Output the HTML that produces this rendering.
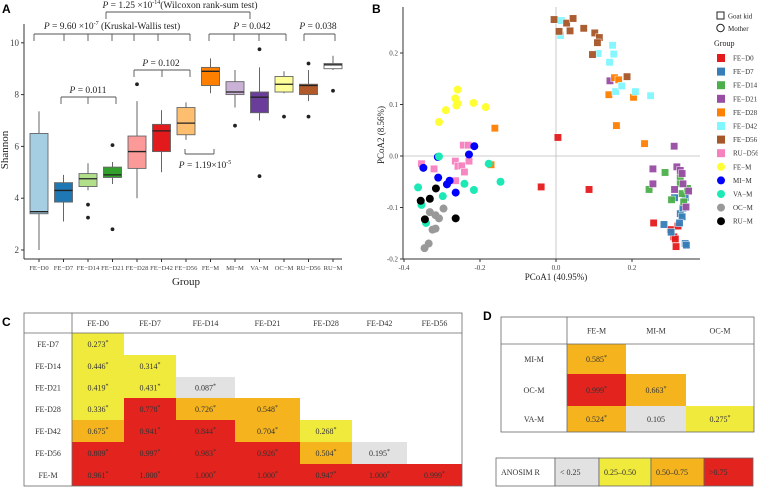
<!DOCTYPE html>
<html><head><meta charset="utf-8"><style>
body{margin:0;background:#fff;}
svg{display:block;font-family:"Liberation Serif",serif;}
.pl{font-family:"Liberation Sans",sans-serif;font-weight:bold;font-size:12px;}
</style></head><body>
<svg id="s" width="758" height="488" viewBox="0 0 758 488" xmlns="http://www.w3.org/2000/svg">
<text class="pl" x="2" y="13">A</text>
<text class="pl" x="372" y="13">B</text>
<text class="pl" x="2" y="326">C</text>
<text class="pl" x="483" y="320">D</text>
<g id="A"></g>
<g id="B"></g>
<g id="C"></g>
<g id="D"></g>
</svg>
<script>
const NS="http://www.w3.org/2000/svg";
function mk(p,t,a,txt){const e=document.createElementNS(NS,t);for(const k in a)e.setAttribute(k,a[k]);if(txt!==undefined)e.textContent=txt;p.appendChild(e);return e;}

// ---------- Panel A data ----------
const groupsA=["FE−D0","FE−D7","FE−D14","FE−D21","FE−D28","FE−D42","FE−D56","FE−M","MI−M","VA−M","OC−M","RU−D56","RU−M"];
const boxMin=[2.0,3.1,4.3,4.55,4.0,5.0,6.25,8.05,7.5,7.0,8.05,7.75,8.95];
const boxQ1=[3.4,3.85,4.45,4.8,5.15,5.8,6.45,8.35,8.0,7.3,8.1,8.0,9.0];
const boxMed=[3.48,4.3,4.75,4.9,5.8,6.6,6.9,8.9,8.1,7.9,8.4,8.35,9.15];
const boxQ3=[6.5,4.6,4.95,5.2,6.4,6.85,7.5,9.05,8.5,8.1,8.7,8.4,9.2];
const boxMax=[7.35,4.9,5.35,5.4,7.75,7.4,7.7,9.4,8.95,9.05,8.9,8.95,9.5];
const outliers=[[],[],[3.75,3.25],[6.05,2.8],[8.4],[],[],[],[6.8],[9.75,4.85],[7.15],[9.2,7.15],[8.15]];
const yTicksA=[2,4,6,8,10];
const boxColors=["#a6cee3","#1f78b4","#b2df8a","#33a02c","#fb9a99","#e31a1c","#fdbf6f","#ff7f00","#cab2d6","#6a3d9a","#ffff99","#b15928","#ffffff"];

const A=document.getElementById('A');
const ax=i=>39+i*24.5;
const ay=v=>250-(v-2)*25.9;
mk(A,'line',{x1:24,y1:24,x2:24,y2:259,stroke:'#333','stroke-width':1});
mk(A,'line',{x1:24,y1:259,x2:342,y2:259,stroke:'#333','stroke-width':1});
yTicksA.forEach(v=>{
  mk(A,'line',{x1:21,y1:ay(v),x2:24,y2:ay(v),stroke:'#333'});
  const t=mk(A,'text',{x:19,y:ay(v)+3,'text-anchor':'end','font-size':9,fill:'#444'},String(v));
  
});
mk(A,'text',{x:8,y:150,'text-anchor':'middle','font-size':11,transform:'rotate(-90 8 150)',fill:'#222',},'Shannon');
mk(A,'text',{x:186,y:285,'text-anchor':'middle','font-size':11,fill:'#222',},'Group');
groupsA.forEach((g,i)=>{
  const x=ax(i),w=9;
  mk(A,'line',{x1:x,y1:259,x2:x,y2:262,stroke:'#333'});
  const t=mk(A,'text',{x:x,y:270,'text-anchor':'middle','font-size':6.6,fill:'#444'},g);
  
  const b=document.createElementNS(NS,'g');A.appendChild(b);
  
  
  mk(b,'line',{x1:x,y1:ay(boxMin[i]),x2:x,y2:ay(boxMax[i]),stroke:'#555','stroke-width':0.9});
  mk(b,'rect',{x:x-w,y:ay(boxQ3[i]),width:2*w,height:ay(boxQ1[i])-ay(boxQ3[i]),fill:boxColors[i],stroke:'#666','stroke-width':0.9});
  mk(b,'line',{x1:x-w,y1:ay(boxMed[i]),x2:x+w,y2:ay(boxMed[i]),stroke:'#222','stroke-width':1.3});
  outliers[i].forEach(o=>mk(b,'circle',{cx:x,cy:ay(o),r:1.9,fill:'#222'}));
});
function bracket(x1,x2,y,idx,down,label,lx,ly,nm){
  const g=mk(A,'g',{});
  const d=down?7:-5;
  mk(g,'line',{x1:x1,y1:y,x2:x2,y2:y,stroke:'#555','stroke-width':0.9});
  idx.forEach(xx=>mk(g,'line',{x1:xx,y1:y,x2:xx,y2:y+d,stroke:'#555','stroke-width':0.9}));
  const t=mk(g,'text',{x:lx,y:ly,'text-anchor':'middle','font-size':9.5,fill:'#222'});
  t.innerHTML=label;
}
bracket(106,250,12,[106,250],true,'<tspan font-style="italic">P</tspan> = 1.25 ×10<tspan font-size="6" dy="-4">-14</tspan><tspan dy="4">(Wilcoxon rank-sum test)</tspan>',180,8,'wilcoxon-bracket');
bracket(34,190,34,[34,64,88,112,134,158,190],true,'<tspan font-style="italic">P</tspan> = 9.60 ×10<tspan font-size="6" dy="-4">-7</tspan><tspan dy="4"> (Kruskal-Wallis test)</tspan>',112,29,'kruskal-bracket');
bracket(209,286,34,[209,234,259,286],true,'<tspan font-style="italic">P</tspan> = 0.042',252,29,'mother-bracket');
bracket(304,335,34,[304,335],true,'<tspan font-style="italic">P</tspan> = 0.038',318,29,'ru-bracket');
bracket(134,190,70,[134,162,190],true,'<tspan font-style="italic">P</tspan> = 0.102',161,66,'late-bracket');
bracket(61,116,97,[61,88,116],true,'<tspan font-style="italic">P</tspan> = 0.011',88,93,'early-bracket');
bracket(185,214,154,[185,214],false,'<tspan font-style="italic">P</tspan> = 1.19×10<tspan font-size="6" dy="-4">-5</tspan>',205,168,'fe-bracket');

// ---------- Panel B data ----------
const pcoaGroups=["FE−D0","FE−D7","FE−D14","FE−D21","FE−D28","FE−D42","FE−D56","RU−D56","FE−M","MI−M","VA−M","OC−M","RU−M"];
const pcoaColors=["#e41a1c","#377eb8","#4daf4a","#984ea3","#ff7f00","#80f7ff","#a65628","#f781bf","#ffff33","#0000ff","#1de9b6","#999999","#000000"];
const pcoaShapes=["s","s","s","s","s","s","s","s","c","c","c","c","c"];
const pc1=[
[0.005,-0.039,0.087,0.257,0.301,0.321,0.310,0.316,0.314],
[0.284,0.303,0.312,0.340,0.327,0.332,0.325,0.340,0.343,0.334],
[0.245,0.287,0.304,0.327,0.332,0.336,0.346,0.327],
[0.142,0.311,0.255,0.255,0.318,0.327,0.332,0.334,0.312,0.349,0.342],
[-0.161,-0.171,0.139,0.154,0.165,0.159,0.204,0.233],
[0.014,0.012,0.111,0.149,0.152,0.141,0.157,0.173,0.209,0.249],
[-0.005,0.008,0.028,0.045,0.037,0.073,0.102,0.114,0.109,0.096,0.187],
[-0.354,-0.321,-0.265,-0.258,-0.248,-0.241,-0.229,-0.244,-0.231,-0.264],
[-0.259,-0.265,-0.262,-0.259,-0.290,-0.308,-0.217,-0.185],
[-0.349,-0.311,-0.310,-0.280,-0.287,-0.264,-0.229,-0.215],
[-0.308,-0.363,-0.354,-0.342,-0.298,-0.241,-0.216,-0.177,-0.146],
[-0.332,-0.317,-0.308,-0.296,-0.325,-0.317,-0.335,-0.346],
[-0.356,-0.332,-0.316,-0.345,-0.264]];
const pc2=[
[0.036,-0.060,-0.065,-0.130,-0.143,-0.136,-0.157,-0.176,-0.161],
[-0.133,-0.148,-0.081,-0.081,-0.112,-0.118,-0.130,-0.170,-0.173,-0.101],
[-0.065,-0.032,-0.085,-0.041,-0.073,-0.089,-0.063,-0.054],
[0.146,0.019,-0.025,-0.054,-0.021,-0.028,-0.034,-0.054,-0.065,-0.068,-0.099],
[0.054,-0.017,0.119,0.152,0.148,0.059,0.114,0.024],
[0.263,0.234,0.199,0.215,0.198,0.182,0.125,0.136,0.125,0.117],
[0.265,0.242,0.258,0.267,0.243,0.248,0.239,0.230,0.220,0.197,0.154],
[-0.015,-0.025,-0.010,-0.020,-0.019,-0.031,-0.010,0.021,0.021,-0.048],
[0.129,0.112,0.098,0.102,0.089,0.066,0.103,0.095],
[-0.023,-0.002,-0.042,-0.048,-0.055,-0.071,0.003,0.019],
[-0.001,-0.061,-0.095,-0.130,-0.078,-0.054,-0.066,-0.015,-0.050],
[-0.109,-0.115,-0.121,-0.102,-0.143,-0.141,-0.170,-0.179],
[-0.087,-0.083,-0.063,-0.123,-0.121]];
const xTicksB=[-0.4,-0.2,0.0,0.2];
const yTicksB=[-0.2,-0.1,0.0,0.1,0.2];

const B=document.getElementById('B');
const bx=v=>556+v*380;
const by=v=>156-v*515;
mk(B,'line',{x1:bx(0),y1:7,x2:bx(0),y2:259,stroke:'#bbb','stroke-width':0.8});
mk(B,'line',{x1:403,y1:by(0),x2:700,y2:by(0),stroke:'#bbb','stroke-width':0.8});
mk(B,'line',{x1:403,y1:7,x2:403,y2:259,stroke:'#333'});
mk(B,'line',{x1:403,y1:259,x2:700,y2:259,stroke:'#333'});
xTicksB.forEach(v=>{mk(B,'line',{x1:bx(v),y1:259,x2:bx(v),y2:262,stroke:'#333'});
  const t=mk(B,'text',{x:bx(v),y:270,'text-anchor':'middle','font-size':7,fill:'#444'},v.toFixed(1));
  });
yTicksB.forEach(v=>{mk(B,'line',{x1:400,y1:by(v),x2:403,y2:by(v),stroke:'#333'});
  const t=mk(B,'text',{x:398,y:by(v)+2.5,'text-anchor':'end','font-size':7,fill:'#444'},v.toFixed(1));
  });
mk(B,'text',{x:556,y:280,'text-anchor':'middle','font-size':9,fill:'#222',},'PCoA1 (40.95%)');
mk(B,'text',{x:384,y:135,'text-anchor':'middle','font-size':9,fill:'#222',transform:'rotate(-90 384 135)',},'PCoA2 (8.56%)');
pcoaGroups.forEach((g,gi)=>{
  pc1[gi].forEach((v,j)=>{
    const x=bx(v),y=by(pc2[gi][j]);let e;
    if(pcoaShapes[gi]==='s') e=mk(B,'rect',{x:x-3.7,y:y-3.7,width:7.4,height:7.4,fill:pcoaColors[gi],stroke:'#fff','stroke-width':0.5,opacity:0.95});
    else e=mk(B,'circle',{cx:x,cy:y,r:4,fill:pcoaColors[gi]});
    
    
  });
});
// legend
const L=mk(B,'g',{});
mk(L,'rect',{x:717,y:12,width:7,height:7,fill:'none',stroke:'#222'});
mk(L,'text',{x:728,y:18.5,'font-size':7,fill:'#222'},'Goat kid');
mk(L,'circle',{cx:720.5,cy:28,r:3.7,fill:'none',stroke:'#222'});
mk(L,'text',{x:728,y:31,'font-size':7,fill:'#222'},'Mother');
mk(L,'text',{x:714,y:46,'font-size':8,fill:'#222'},'Group');
pcoaGroups.forEach((g,i)=>{
  const y=58+i*13.6;
  const it=mk(L,'g',{});
  
  
  if(pcoaShapes[i]==='s') mk(it,'rect',{x:717,y:y-4,width:8,height:8,fill:pcoaColors[i]});
  else mk(it,'circle',{cx:721,cy:y,r:4,fill:pcoaColors[i]});
  mk(it,'text',{x:733,y:y+2.5,'font-size':7,fill:'#333'},g);
});

// ---------- tables ----------
function rcol(v){return v<0.25?'#e2e2e2':v<0.5?'#f0ea3c':v<0.75?'#f5b41e':'#e3241e';}
const cCols=["FE-D0","FE-D7","FE-D14","FE-D21","FE-D28","FE-D42","FE-D56"];
const cRows=["FE-D7","FE-D14","FE-D21","FE-D28","FE-D42","FE-D56","FE-M"];
const cVals=[[0.273],[0.446,0.314],[0.419,0.431,0.087],[0.336,0.778,0.726,0.548],[0.675,0.941,0.844,0.704,0.268],[0.809,0.997,0.983,0.926,0.504,0.195],[0.961,1.000,1.000,1.000,0.947,1.000,0.999]];
const cSig=[[1],[1,1],[1,1,1],[1,1,1,1],[1,1,1,1,1],[1,1,1,1,1,1],[1,1,1,1,1,1,1]];
const dCols=["FE-M","MI-M","OC-M"];
const dRows=["MI-M","OC-M","VA-M"];
const dVals=[[0.585],[0.999,0.663],[0.524,0.105,0.275]];
const dSig=[[1],[1,1],[1,0,1]];
function table(G,colX,rowY,cols,rows,vals,sig,fs){
  const x0=colX[0],x1=colX[colX.length-1],y0=rowY[0],y1=rowY[rowY.length-1];
  rows.forEach((r,i)=>{
    const cy=(rowY[i+1]+rowY[i+2])/2;
    const t=mk(G,'text',{x:(colX[0]+colX[1])/2,y:cy+3,'text-anchor':'middle','font-size':fs,fill:'#333'},r);
    
    vals[i].forEach((v,j)=>{
      const c=mk(G,'g',{});
      
      
      mk(c,'rect',{x:colX[j+1],y:rowY[i+1],width:colX[j+2]-colX[j+1],height:rowY[i+2]-rowY[i+1],fill:rcol(v)});
      const tt=mk(c,'text',{x:(colX[j+1]+colX[j+2])/2,y:cy+3,'text-anchor':'middle','font-size':fs,fill:'#333'});
      tt.innerHTML=v.toFixed(3)+(sig[i][j]?'<tspan font-size="'+(fs-2)+'" dy="-3">*</tspan>':'');
    });
  });
  cols.forEach((c,j)=>{const t=mk(G,'text',{x:(colX[j+1]+colX[j+2])/2,y:(rowY[0]+rowY[1])/2+3,'text-anchor':'middle','font-size':fs,fill:'#333'},c);
    });
  mk(G,'rect',{x:x0,y:y0,width:x1-x0,height:y1-y0,fill:'none',stroke:'#666','stroke-width':0.8});
  mk(G,'line',{x1:x0,y1:rowY[1],x2:x1,y2:rowY[1],stroke:'#666','stroke-width':0.8});
  mk(G,'line',{x1:colX[1],y1:y0,x2:colX[1],y2:y1,stroke:'#666','stroke-width':0.8});
}
table(document.getElementById('C'),[24,72,124,176,235,300,352,407,462],[313,333,355,377,398,420,442,464,486],cCols,cRows,cVals,cSig,8);
table(document.getElementById('D'),[501,567,626,686,754],[317,344,374,406,432],dCols,dRows,dVals,dSig,8);
// ANOSIM legend
const legLabels=["ANOSIM R","< 0.25","0.25–0.50","0.50–0.75",">0.75"];
const legFills=["#ffffff","#e2e2e2","#f0ea3c","#f5b41e","#e3241e"];
const legX=[496,555,599,651,704,753];
const DL=mk(document.getElementById('D'),'g',{});
legLabels.forEach((l,i)=>{
  mk(DL,'rect',{x:legX[i],y:458,width:legX[i+1]-legX[i],height:28,fill:legFills[i],stroke:'#666','stroke-width':0.8});
  mk(DL,'text',{x:legX[i]+5,y:475,'font-size':8,fill:'#333'},l);
});
</script>
</body></html>
